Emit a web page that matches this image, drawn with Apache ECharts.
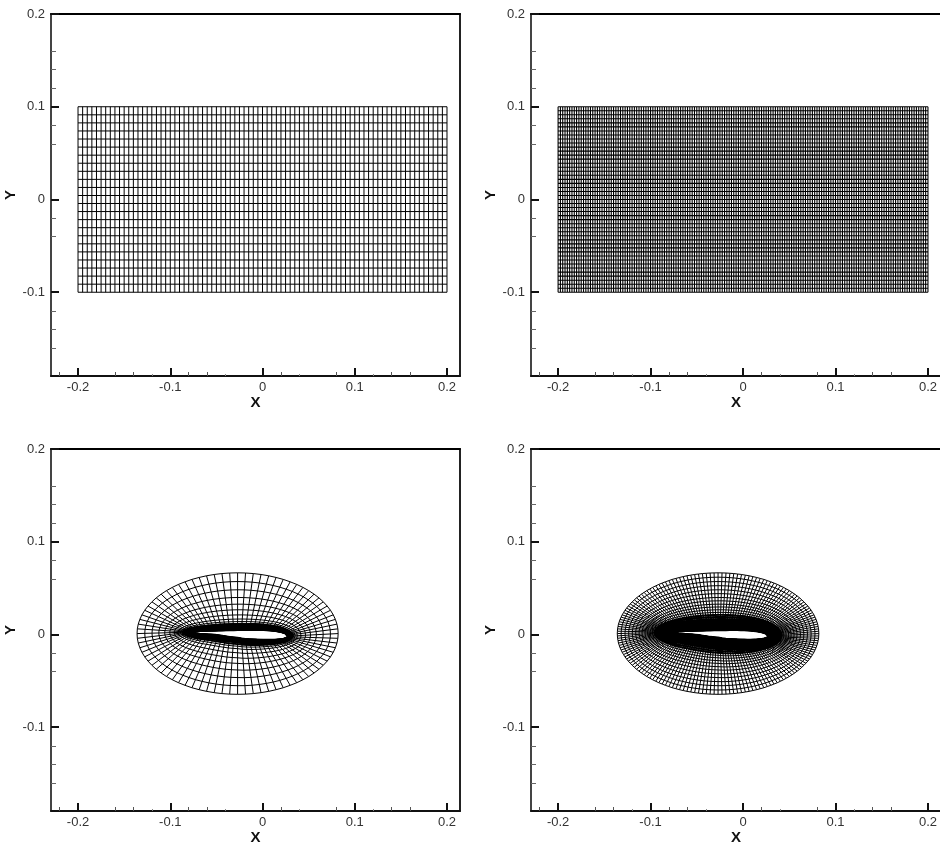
<!DOCTYPE html>
<html><head><meta charset="utf-8">
<style>html,body{margin:0;padding:0;background:#fff}#c{width:940px;height:844px}</style>
<script src="https://cdn.jsdelivr.net/npm/echarts@6/dist/echarts.min.js"></script>
</head><body><div id="c"></div>
<script>
// Axis ticks (some minor ticks are lost in the reference's downsampling)
const xMajor = [-0.2,-0.1,0,0.1,0.2];
const xMinor = [-0.22,-0.16,-0.14,-0.08,-0.06,0.02,0.08,0.14,0.16];
const xFaint = [-0.12,-0.04,0.04,0.12];
const yMajor = [-0.1,0,0.1,0.2];
const yMinor = [-0.16,-0.14,-0.12,-0.04,-0.02,0.06,0.08,0.12,0.14,0.16];

// Rectangular meshes: positions of the grid lines
const coarseX = [-.2,-.195,-.19,-.185,-.18,-.175,-.17,-.165,-.16,-.155,-.15,-.145,-.14,-.135,-.13,-.125,-.12,-.115,-.11,-.105,-.1,-.095,-.09,-.085,-.08,-.075,-.07,-.065,-.06,-.055,-.05,-.045,-.04,-.035,-.03,-.025,-.02,-.015,-.01,-.005,0,.005,.01,.015,.02,.025,.03,.035,.04,.045,.05,.055,.06,.065,.07,.075,.08,.085,.09,.095,.1,.105,.11,.115,.12,.125,.13,.135,.14,.145,.15,.155,.16,.165,.17,.175,.18,.185,.19,.195,.2];
const coarseY = [.1,.0913,.0826,.0739,.0652,.0565,.0478,.0391,.0304,.0217,.013,.0043,-.0043,-.013,-.0217,-.0304,-.0391,-.0478,-.0565,-.0652,-.0739,-.0826,-.0913,-.1];
const fineX = [-.2,-.1975,-.195,-.1925,-.19,-.1875,-.185,-.1825,-.18,-.1775,-.175,-.1725,-.17,-.1675,-.165,-.1625,-.16,-.1575,-.155,-.1525,-.15,-.1475,-.145,-.1425,-.14,-.1375,-.135,-.1325,-.13,-.1275,-.125,-.1225,-.12,-.1175,-.115,-.1125,-.11,-.1075,-.105,-.1025,-.1,-.0975,-.095,-.0925,-.09,-.0875,-.085,-.0825,-.08,-.0775,-.075,-.0725,-.07,-.0675,-.065,-.0625,-.06,-.0575,-.055,-.0525,-.05,-.0475,-.045,-.0425,-.04,-.0375,-.035,-.0325,-.03,-.0275,-.025,-.0225,-.02,-.0175,-.015,-.0125,-.01,-.0075,-.005,-.0025,0,.0025,.005,.0075,.01,.0125,.015,.0175,.02,.0225,.025,.0275,.03,.0325,.035,.0375,.04,.0425,.045,.0475,.05,.0525,.055,.0575,.06,.0625,.065,.0675,.07,.0725,.075,.0775,.08,.0825,.085,.0875,.09,.0925,.095,.0975,.1,.1025,.105,.1075,.11,.1125,.115,.1175,.12,.1225,.125,.1275,.13,.1325,.135,.1375,.14,.1425,.145,.1475,.15,.1525,.155,.1575,.16,.1625,.165,.1675,.17,.1725,.175,.1775,.18,.1825,.185,.1875,.19,.1925,.195,.1975,.2];
const fineY = [.1,.0957,.0913,.087,.0826,.0783,.0739,.0696,.0652,.0609,.0565,.0522,.0478,.0435,.0391,.0348,.0304,.0261,.0217,.0174,.013,.0087,.0043,0,-.0043,-.0087,-.013,-.0174,-.0217,-.0261,-.0304,-.0348,-.0391,-.0435,-.0478,-.0522,-.0565,-.0609,-.0652,-.0696,-.0739,-.0783,-.0826,-.087,-.0913,-.0957,-.1];

// O-grid: estimated nodes on the outer ellipse and on the aerofoil surface
const outerX = [.082,.0817,.0807,.079,.0767,.0737,.0701,.0659,.0612,.0559,.0501,.0438,.0371,.03,.0225,.0147,.0067,-.0016,-.01,-.0184,-.027,-.0356,-.044,-.0524,-.0607,-.0687,-.0765,-.084,-.0911,-.0978,-.1041,-.1099,-.1152,-.1199,-.1241,-.1277,-.1307,-.133,-.1347,-.1357,-.136,-.1357,-.1347,-.133,-.1307,-.1277,-.1241,-.1199,-.1152,-.1099,-.1041,-.0978,-.0911,-.084,-.0765,-.0687,-.0607,-.0524,-.044,-.0356,-.027,-.0184,-.01,-.0016,.0067,.0147,.0225,.03,.0371,.0438,.0501,.0559,.0612,.0659,.0701,.0737,.0767,.079,.0807,.0817];
const outerY = [.001,.0061,.0112,.0163,.0212,.0261,.0307,.0352,.0395,.0435,.0473,.0508,.054,.0568,.0594,.0615,.0633,.0647,.0657,.0663,.0665,.0663,.0657,.0647,.0633,.0615,.0594,.0568,.054,.0508,.0473,.0435,.0395,.0352,.0307,.0261,.0212,.0163,.0112,.0061,.001,-.0041,-.0092,-.0143,-.0192,-.0241,-.0287,-.0332,-.0375,-.0415,-.0453,-.0488,-.052,-.0548,-.0574,-.0595,-.0613,-.0627,-.0637,-.0643,-.0645,-.0643,-.0637,-.0627,-.0613,-.0595,-.0574,-.0548,-.052,-.0488,-.0453,-.0415,-.0375,-.0332,-.0287,-.0241,-.0192,-.0143,-.0092,-.0041];
const innerX = [.027,.0268,.0263,.0255,.0244,.0229,.0211,.019,.0167,.0141,.0112,.0081,.0047,.0012,-.0025,-.0063,-.0103,-.0144,-.0186,-.0228,-.027,-.0312,-.0354,-.0396,-.0437,-.0477,-.0515,-.0552,-.0587,-.0621,-.0652,-.0681,-.0707,-.073,-.0751,-.0769,-.0784,-.0795,-.0803,-.0808,-.081,-.0808,-.0803,-.0795,-.0784,-.0769,-.0751,-.073,-.0707,-.0681,-.0652,-.0621,-.0587,-.0552,-.0515,-.0477,-.0437,-.0396,-.0354,-.0312,-.027,-.0228,-.0186,-.0144,-.0103,-.0063,-.0025,.0012,.0047,.0081,.0112,.0141,.0167,.019,.0211,.0229,.0244,.0255,.0263,.0268];
const innerY = [-.0018,-.0008,-.0002,.0003,.0009,.0014,.002,.0025,.003,.0034,.0038,.0041,.0043,.0045,.0046,.0047,.0047,.0047,.0046,.0046,.0045,.0044,.0043,.0042,.0041,.004,.0039,.0038,.0037,.0036,.0035,.0034,.0033,.0032,.0031,.003,.0029,.0028,.0027,.0026,.0025,.0024,.0023,.0022,.0021,.0019,.0017,.0015,.0013,.001,.0008,.0006,.0004,.0002,-.0001,-.0006,-.0012,-.0018,-.0025,-.0029,-.0033,-.0041,-.0045,-.0048,-.005,-.0052,-.0053,-.0054,-.0055,-.0055,-.0054,-.0053,-.0051,-.0049,-.0046,-.0042,-.0038,-.0034,-.003,-.0024];
// Share of the way from aerofoil (0) to ellipse (1) of each ring
const coarseRings = [1,.848,.705,.571,.455,.357,.268,.196,.152,.116,.089,.068,.052,.039,.03,.023,.018,.013,.0098,.0071,.0054,.0036,.0018,0];
const fineRings = [1,.924,.848,.776,.705,.638,.571,.513,.455,.406,.357,.312,.268,.232,.196,.174,.152,.134,.116,.102,.089,.078,.068,.06,.052,.046,.039,.035,.03,.026,.023,.02,.018,.015,.013,.011,.0098,.0085,.0071,.0062,.0054,.0045,.0036,.0027,.0018,.0009,0];

const GAP = ['-','-'];
function rectMesh(xs, ys) {
  const d = [];
  xs.forEach(x => d.push([x, ys[0]], [x, ys[ys.length-1]], GAP));
  ys.forEach(y => d.push([xs[0], y], [xs[xs.length-1], y], GAP));
  return d;
}
// Mesh lines of the O-grid: straight spokes between surface and ellipse nodes, crossed by rings.
function ringLines(ox, oy, ix, iy, rings) {
  const n = ox.length, d = [];
  rings.forEach(f => {
    for (let k = 0; k <= n; k++) {
      const m = k % n;
      d.push([ix[m] + (ox[m]-ix[m])*f, iy[m] + (oy[m]-iy[m])*f]);
    }
    d.push(GAP);
  });
  return d;
}
function oMesh(ox, oy, ix, iy, rings) {
  const d = [];
  for (let k = 0; k < ox.length; k++) d.push([ix[k], iy[k]], [ox[k], oy[k]], GAP);
  return d.concat(ringLines(ox, oy, ix, iy, rings));
}
// The right-hand grids are the left-hand grids with each cell split in two.
const split = a => a.flatMap((v, i) => [v, (v + a[(i+1) % a.length]) / 2]);
const [fox, foy, fix, fiy] = [outerX, outerY, innerX, innerY].map(split);

const panels = [
  {left:51,  top:14,  width:409, lw:1,   data:rectMesh(coarseX, coarseY)},
  {left:531, top:14,  width:410, lw:1.1, data:rectMesh(fineX, fineY)},
  {left:51,  top:449, width:409, lw:1,   data:oMesh(outerX, outerY, innerX, innerY, coarseRings),
    core:ringLines(outerX, outerY, innerX, innerY, coarseRings.filter(f => f <= 0.12)), coreW:1.5},
  {left:531, top:449, width:410, lw:1,   data:oMesh(fox, foy, fix, fiy, fineRings),
    core:ringLines(fox, foy, fix, fiy, fineRings.filter(f => f <= 0.3)), coreW:1.9}
];

const XMIN=-0.2293, XMAX=0.2141, YMIN=-0.1903, YMAX=0.2;
const FONT='"Liberation Sans",Arial,sans-serif';
const grid=[], xAxis=[], yAxis=[], series=[];
const hiddenLine = {show:false,onZero:false};
panels.forEach((p,i)=>{
  grid.push({left:p.left, top:p.top, width:p.width, height:362, containLabel:false, outerBoundsMode:'none'});
  const lineS = (c,w)=>({show:true,onZero:false,lineStyle:{color:c,width:w}});
  const xb = {type:'value',gridIndex:i,min:XMIN,max:XMAX,splitLine:{show:false},minorTick:{show:false},minorSplitLine:{show:false}};
  const yb = {type:'value',gridIndex:i,min:YMIN,max:YMAX,splitLine:{show:false},minorTick:{show:false},minorSplitLine:{show:false}};
  const xi = xAxis.length, yi = yAxis.length;
  xAxis.push({...xb,position:'bottom',axisLine:lineS('#111',2),
    name:'X',nameLocation:'middle',nameGap:14,nameTextStyle:{fontFamily:FONT,fontWeight:'bold',fontSize:15,color:'#111'},
    axisTick:{show:true,inside:true,length:8,customValues:xMajor,lineStyle:{color:'#111',width:2}},
    axisLabel:{show:true,customValues:xMajor,margin:5,fontFamily:FONT,fontSize:13,color:'#333',showMinLabel:true,showMaxLabel:true,hideOverlap:false}});
  xAxis.push({...xb,position:'bottom',axisLine:hiddenLine,axisLabel:{show:false},
    axisTick:{show:true,inside:true,length:4,customValues:xMinor,lineStyle:{color:'#555',width:1}}});
  xAxis.push({...xb,position:'bottom',axisLine:hiddenLine,axisLabel:{show:false},
    axisTick:{show:true,inside:true,length:2,customValues:xFaint,lineStyle:{color:'#888',width:1}}});
  xAxis.push({...xb,position:'top',axisLine:lineS('#000',2),axisLabel:{show:false},axisTick:{show:false}});
  yAxis.push({...yb,position:'left',axisLine:lineS('#444',2),
    name:'Y',nameLocation:'middle',nameGap:23,nameTextStyle:{fontFamily:FONT,fontWeight:'bold',fontSize:15,color:'#111'},
    axisTick:{show:true,inside:true,length:8,customValues:yMajor,lineStyle:{color:'#111',width:2}},
    axisLabel:{show:true,customValues:yMajor,margin:6,fontFamily:FONT,fontSize:13,color:'#333',showMinLabel:true,showMaxLabel:true,hideOverlap:false}});
  yAxis.push({...yb,position:'left',axisLine:hiddenLine,axisLabel:{show:false},
    axisTick:{show:true,inside:true,length:5,customValues:yMinor,lineStyle:{color:'#666',width:1}}});
  yAxis.push({...yb,position:'right',axisLine:lineS('#222',2),axisLabel:{show:false},axisTick:{show:false}});
  const mk = (data,w)=>({type:'line',xAxisIndex:xi,yAxisIndex:yi,data,showSymbol:false,symbol:'none',connectNulls:false,
    silent:true,animation:false,clip:true,lineStyle:{color:'#000',width:w,cap:'butt',join:'miter'}});
  series.push(mk(p.data,p.lw));
  if (p.core) series.push(mk(p.core,p.coreW));
});
const chart = echarts.init(document.getElementById('c'),null,{renderer:'canvas'});
chart.setOption({animation:false,backgroundColor:'#fff',grid,xAxis,yAxis,series});
</script></body></html>
